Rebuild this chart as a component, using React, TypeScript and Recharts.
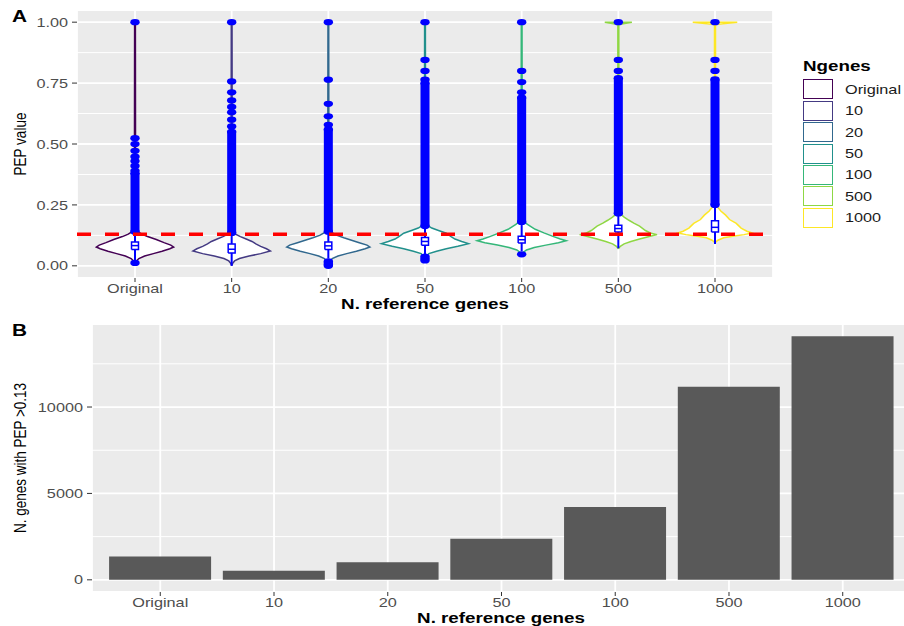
import React from 'react';
import {
  ComposedChart, Scatter, XAxis, YAxis, CartesianGrid, ReferenceLine, BarChart, Bar,
} from 'recharts';

// groups: number of reference genes
const NGENES = ['Original', '10', '20', '50', '100', '500', '1000'];
const NGENE_COLORS = ['#440154', '#443A83', '#31688E', '#21908C', '#35B779', '#8FD744', '#FDE725'];

// violin outlines: [PEP value, half width in group units]
const VIOLIN_ORIGINAL = [
  [0.01, 0], [0.02, 0.015], [0.03, 0.04], [0.04, 0.1], [0.05, 0.19], [0.06, 0.28], [0.07, 0.36],
  [0.077, 0.4], [0.085, 0.37], [0.095, 0.3], [0.108, 0.22], [0.12, 0.13], [0.13, 0.07], [0.14, 0.03],
  [0.16, 0.012], [0.25, 0.006], [1.0, 0.004],
];
const VIOLIN_10 = [
  [0.0, 0], [0.01, 0.01], [0.02, 0.03], [0.03, 0.08], [0.04, 0.18], [0.05, 0.3], [0.061, 0.4],
  [0.07, 0.36], [0.08, 0.3], [0.09, 0.25], [0.1, 0.21], [0.11, 0.15], [0.12, 0.09], [0.13, 0.04],
  [0.14, 0.015], [0.2, 0.006], [1.0, 0.004],
];
const VIOLIN_20 = [
  [0.0, 0], [0.015, 0.01], [0.03, 0.04], [0.04, 0.1], [0.05, 0.19], [0.06, 0.29], [0.07, 0.38],
  [0.077, 0.43], [0.085, 0.4], [0.095, 0.32], [0.105, 0.24], [0.115, 0.16], [0.125, 0.09],
  [0.135, 0.045], [0.15, 0.015], [0.25, 0.006], [1.0, 0.004],
];
const VIOLIN_50 = [
  [0.02, 0], [0.035, 0.01], [0.05, 0.04], [0.06, 0.12], [0.07, 0.22], [0.08, 0.34], [0.091, 0.45],
  [0.1, 0.38], [0.11, 0.31], [0.12, 0.27], [0.134, 0.22], [0.145, 0.14], [0.155, 0.07], [0.165, 0.03],
  [0.18, 0.012], [0.3, 0.006], [1.0, 0.004],
];
const VIOLIN_100 = [
  [0.045, 0], [0.055, 0.015], [0.065, 0.05], [0.075, 0.13], [0.085, 0.25], [0.095, 0.38], [0.103, 0.46],
  [0.11, 0.4], [0.12, 0.33], [0.135, 0.23], [0.15, 0.14], [0.16, 0.1], [0.17, 0.06], [0.18, 0.03],
  [0.2, 0.012], [0.3, 0.006], [1.0, 0.004],
];
const VIOLIN_500 = [
  [0.07, 0], [0.08, 0.02], [0.09, 0.06], [0.1, 0.13], [0.11, 0.22], [0.12, 0.32], [0.128, 0.4],
  [0.135, 0.33], [0.145, 0.28], [0.163, 0.22], [0.175, 0.16], [0.187, 0.11], [0.2, 0.06], [0.21, 0.03],
  [0.225, 0.01], [0.3, 0.006], [0.99, 0.005], [1.0, 0.14],
];
const VIOLIN_1000 = [
  [0.095, 0], [0.105, 0.03], [0.115, 0.09], [0.122, 0.2], [0.128, 0.3], [0.135, 0.38], [0.142, 0.33],
  [0.155, 0.27], [0.174, 0.22], [0.19, 0.15], [0.208, 0.11], [0.225, 0.06], [0.24, 0.03], [0.255, 0.012],
  [0.3, 0.007], [0.99, 0.005], [1.0, 0.23],
];
const VIOLINS = [VIOLIN_ORIGINAL, VIOLIN_10, VIOLIN_20, VIOLIN_50, VIOLIN_100, VIOLIN_500, VIOLIN_1000];

// boxplot stats: [lower whisker, q1, median, q3, upper whisker]
const BOX_STATS = [
  [0.02, 0.067, 0.083, 0.098, 0.14],
  [0.0, 0.053, 0.068, 0.09, 0.135],
  [0.03, 0.067, 0.082, 0.098, 0.14],
  [0.045, 0.084, 0.1, 0.116, 0.163],
  [0.06, 0.094, 0.107, 0.121, 0.18],
  [0.072, 0.139, 0.153, 0.167, 0.215],
  [0.09, 0.139, 0.158, 0.185, 0.25],
];

// stretches where outliers overlap into a solid column: [from, to]
const OUTLIER_RUNS = [
  [0.14, 0.38], [0.135, 0.55], [0.14, 0.56], [0.163, 0.75], [0.18, 0.69], [0.215, 0.77], [0.25, 0.765],
];

// separate outliers
const OUTLIERS = [
  [0.012, 0.39, 0.41, 0.43, 0.448, 0.472, 0.5, 0.524, 1.0],
  [0.572, 0.6, 0.63, 0.652, 0.679, 0.712, 0.757, 1.0],
  [0.0, 0.005, 0.012, 0.018, 0.579, 0.614, 0.665, 0.764, 1.0],
  [0.022, 0.03, 0.038, 0.764, 0.8, 0.845, 1.0],
  [0.047, 0.712, 0.754, 0.8, 1.0],
  [0.8, 0.845, 1.0],
  [0.8, 0.845, 1.0],
];

const PEP_TICKS = [0, 0.25, 0.5, 0.75, 1];
const PEP_MINOR = [0.125, 0.375, 0.625, 0.875];
const PEP_CUTOFF = 0.13;

// genes with PEP above the cutoff
const COUNT_ABOVE = [1350, 520, 1020, 2375, 4210, 11180, 14100];
const COUNT_TICKS = [0, 5000, 10000];
const COUNT_MINOR = [2500, 7500, 12500];

const BLUE = '#0000FF';
const STRETCH = 1.25;
const FONT = '"Liberation Sans", Arial, Helvetica, sans-serif';
const BOX_HALF = 0.036;

const noDot = () => <g />;
const blueDot = (p: any) => <ellipse cx={p.cx} cy={p.cy} rx={4.7} ry={3.1} fill={BLUE} />;

const violinPolygon = (i: number, outline: number[][]) => {
  const right = outline.map(([y, w]) => ({ x: i + w, y }));
  const left = outline.slice().reverse().map(([y, w]) => ({ x: i - w, y }));
  return [...right, ...left];
};

const XTick = (props: any) => {
  const { x, y, payload, labels } = props;
  const label = labels ? labels[payload.value] : payload.value;
  return (
    <g transform={`translate(${x},${y}) scale(${STRETCH},1)`}>
      <text textAnchor="middle" dy="0.71em" fontSize={13} fill="#4D4D4D" fontFamily={FONT}>{label}</text>
    </g>
  );
};

const YTick = (props: any) => {
  const { x, y, payload, digits } = props;
  const label = digits ? Number(payload.value).toFixed(digits) : String(payload.value);
  return (
    <g transform={`translate(${x},${y}) scale(${STRETCH},1)`}>
      <text textAnchor="end" dy="0.355em" fontSize={13} fill="#4D4D4D" fontFamily={FONT}>{label}</text>
    </g>
  );
};

const Title = ({ text, cx, top, size = 15, bold = true }: any) => (
  <div style={{
    position: 'absolute', left: cx, top, fontSize: size, lineHeight: 1, fontWeight: bold ? 'bold' : 'normal',
    whiteSpace: 'nowrap', color: '#000', transform: `translateX(-50%) scaleX(${STRETCH})`,
  }}>{text}</div>
);

const VTitle = ({ text, cx, cy }: any) => (
  <div style={{
    position: 'absolute', left: cx, top: cy, fontSize: 13.5, lineHeight: 1, whiteSpace: 'nowrap', color: '#000',
    transform: `translate(-50%,-50%) rotate(-90deg) scaleY(${STRETCH})`,
  }}>{text}</div>
);

const TagLetter = ({ text, top }: any) => (
  <div style={{
    position: 'absolute', left: 12, top, fontSize: 16, lineHeight: 1, fontWeight: 'bold', color: '#000',
    transform: 'scaleX(1.3)', transformOrigin: 'left center',
  }}>{text}</div>
);

export default function App() {
  const countMax = Math.max(...COUNT_ABOVE);
  const barData = NGENES.map((name, i) => ({ name, count: COUNT_ABOVE[i] }));

  return (
    <div style={{
      position: 'absolute', left: 0, top: 0, width: 904, height: 626, overflow: 'hidden',
      background: '#fff', fontFamily: FONT,
    }}>
      {/* A: PEP distributions */}
      <div style={{ position: 'absolute', left: 0, top: 0 }}>
        <ComposedChart width={780} height={310} margin={{ top: 10, right: 7, bottom: 12, left: 30 }}>
          <CartesianGrid fill="#EBEBEB" stroke="#FFFFFF" strokeWidth={1.8} />
          {PEP_MINOR.map((v) => (
            <ReferenceLine key={v} y={v} stroke="#FFFFFF" strokeWidth={1} zIndex={-90} />
          ))}
          <XAxis
            type="number" dataKey="x" domain={[-0.6, 6.6]} ticks={NGENES.map((_, i) => i)}
            allowDataOverflow height={20} axisLine={false} stroke="#333333" tickSize={4} tickMargin={2}
            tick={(p: any) => <XTick {...p} labels={NGENES} />} interval={0}
          />
          <YAxis
            type="number" dataKey="y" domain={[-0.05, 1.05]} ticks={PEP_TICKS} allowDataOverflow
            width={47} axisLine={false} stroke="#333333" tickSize={5} tickMargin={4}
            tick={(p: any) => <YTick {...p} digits={2} />} interval={0}
          />
          {VIOLINS.map((outline, i) => (
            <Scatter
              key={`violin-${i}`} data={violinPolygon(i, outline)} shape={noDot} isAnimationActive={false}
              line={{ stroke: NGENE_COLORS[i], strokeWidth: 1.5, fill: '#FFFFFF' }}
            />
          ))}
          {BOX_STATS.map(([lw, , , , uw], i) => (
            <Scatter
              key={`whisker-${i}`} data={[{ x: i, y: lw }, { x: i, y: uw }]} shape={noDot}
              isAnimationActive={false} line={{ stroke: BLUE, strokeWidth: 2 }}
            />
          ))}
          {BOX_STATS.map(([, q1, , q3], i) => (
            <Scatter
              key={`box-${i}`} shape={noDot} isAnimationActive={false}
              data={[
                { x: i - BOX_HALF, y: q1 }, { x: i + BOX_HALF, y: q1 }, { x: i + BOX_HALF, y: q3 },
                { x: i - BOX_HALF, y: q3 }, { x: i - BOX_HALF, y: q1 },
              ]}
              line={{ stroke: BLUE, strokeWidth: 1.5, fill: '#FFFFFF' }}
            />
          ))}
          {BOX_STATS.map(([, , med], i) => (
            <Scatter
              key={`median-${i}`} data={[{ x: i - BOX_HALF, y: med }, { x: i + BOX_HALF, y: med }]}
              shape={noDot} isAnimationActive={false} line={{ stroke: BLUE, strokeWidth: 1.5 }}
            />
          ))}
          {OUTLIER_RUNS.map(([from, to], i) => (
            <Scatter
              key={`run-${i}`} data={[{ x: i, y: from }, { x: i, y: to }]} shape={blueDot}
              isAnimationActive={false} line={{ stroke: BLUE, strokeWidth: 9 }}
            />
          ))}
          {OUTLIERS.map((vals, i) => (
            <Scatter
              key={`out-${i}`} data={vals.map((y) => ({ x: i, y }))} shape={blueDot} isAnimationActive={false}
            />
          ))}
          <ReferenceLine
            y={PEP_CUTOFF} stroke="#FF0000" strokeWidth={3.5} strokeDasharray="14 14" zIndex={2000}
          />
        </ComposedChart>
      </div>

      <TagLetter text="A" top={8.5} />
      <VTitle text="PEP value" cx={20.5} cy={144} />
      <Title text="N. reference genes" cx={425} top={296} />

      {/* legend */}
      <div style={{ position: 'absolute', left: 803, top: 58, fontSize: 15, lineHeight: 1, fontWeight: 'bold',
        color: '#000', transform: `scaleX(${STRETCH})`, transformOrigin: 'left center' }}>Ngenes</div>
      {NGENES.map((name, i) => (
        <React.Fragment key={name}>
          <div style={{
            position: 'absolute', left: 803, top: 79.3 + 21.4 * i, width: 30, height: 20, boxSizing: 'border-box',
            border: `1.6px solid ${NGENE_COLORS[i]}`, background: '#fff',
          }} />
          <div style={{
            position: 'absolute', left: 845, top: 89.3 + 21.4 * i - 6.5, fontSize: 13, lineHeight: '13px',
            color: '#1A1A1A', whiteSpace: 'nowrap', transform: `scaleX(${STRETCH})`, transformOrigin: 'left center',
          }}>{name}</div>
        </React.Fragment>
      ))}

      {/* B: genes above the PEP cutoff */}
      <div style={{ position: 'absolute', left: 0, top: 310 }}>
        <BarChart
          width={916} height={316} data={barData} barCategoryGap="5%"
          margin={{ top: 14, right: 5, bottom: 14, left: 30 }}
        >
          <CartesianGrid fill="#EBEBEB" stroke="#FFFFFF" strokeWidth={1.8} />
          {COUNT_MINOR.map((v) => (
            <ReferenceLine key={v} y={v} stroke="#FFFFFF" strokeWidth={1} zIndex={-90} />
          ))}
          <XAxis
            dataKey="name" height={20} axisLine={false} stroke="#333333" tickSize={4} tickMargin={2}
            padding={{ left: 11.4, right: 11.4 }} interval={0} tick={(p: any) => <XTick {...p} />}
          />
          <YAxis
            type="number" domain={[-0.05 * countMax, 1.05 * countMax]} ticks={COUNT_TICKS} allowDataOverflow
            width={62} axisLine={false} stroke="#333333" tickSize={5} tickMargin={4}
            tick={(p: any) => <YTick {...p} />} interval={0}
          />
          <Bar dataKey="count" fill="#595959" isAnimationActive={false} />
        </BarChart>
      </div>

      <TagLetter text="B" top={323} />
      <VTitle text="N. genes with PEP >0.13" cx={20.5} cy={457.5} />
      <Title text="N. reference genes" cx={501} top={610} />
    </div>
  );
}
